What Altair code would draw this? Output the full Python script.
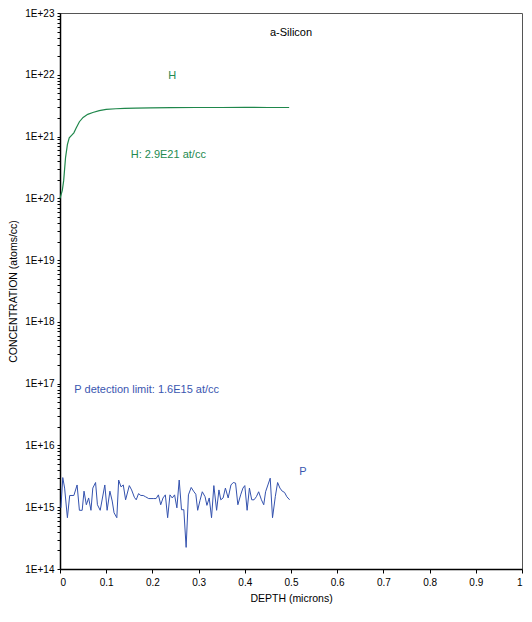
import altair as alt
import pandas as pd

# ---- data ----
h_depth = [0.000, 0.005, 0.008, 0.012, 0.016, 0.020, 0.025, 0.030, 0.035, 0.042,
           0.050, 0.060, 0.071, 0.085, 0.100, 0.121, 0.140, 0.164, 0.196, 0.240,
           0.293, 0.350, 0.400, 0.450, 0.496]
h_log = [20.00, 20.13, 20.29, 20.66, 20.87, 20.98, 21.02, 21.06, 21.14, 21.24,
         21.31, 21.36, 21.39, 21.42, 21.44, 21.45, 21.455, 21.46, 21.465, 21.468,
         21.47, 21.47, 21.472, 21.47, 21.47]

p_depth = [0.002, 0.006, 0.010, 0.016, 0.021, 0.030, 0.037, 0.042, 0.048, 0.052,
           0.057, 0.062, 0.067, 0.071, 0.077, 0.081, 0.087, 0.097, 0.102, 0.108,
           0.113, 0.117, 0.123, 0.127, 0.132, 0.137, 0.142, 0.150, 0.155, 0.161,
           0.165, 0.170, 0.175, 0.180, 0.185, 0.192, 0.203, 0.208, 0.213, 0.218,
           0.223, 0.228, 0.233, 0.238, 0.243, 0.248, 0.253, 0.258, 0.263, 0.268,
           0.273, 0.278, 0.284, 0.289, 0.294, 0.298, 0.303, 0.308, 0.314, 0.318,
           0.323, 0.328, 0.333, 0.339, 0.344, 0.348, 0.353, 0.358, 0.364, 0.370,
           0.375, 0.380, 0.385, 0.391, 0.396, 0.400, 0.405, 0.410, 0.415, 0.420,
           0.425, 0.430, 0.436, 0.441, 0.445, 0.450, 0.455, 0.460, 0.466, 0.471,
           0.476, 0.481, 0.486, 0.491, 0.497]
p_log = [14.99, 15.48, 15.31, 14.83, 15.19, 15.19, 15.36, 14.95, 14.95, 15.26,
         15.04, 15.15, 14.95, 15.31, 15.40, 15.04, 14.95, 15.36, 14.95, 15.26,
         15.10, 14.91, 14.83, 15.44, 15.33, 15.36, 15.12, 15.35, 15.28, 15.16,
         15.12, 15.22, 15.19, 15.19, 15.17, 15.14, 15.14, 15.14, 15.20, 15.04,
         15.15, 15.20, 14.83, 15.20, 15.15, 15.20, 14.99, 15.44, 14.96, 14.96,
         14.35, 15.20, 15.32, 15.26, 15.21, 14.95, 15.11, 15.25, 15.17, 15.03,
         15.15, 14.83, 15.35, 14.95, 15.28, 15.12, 15.15, 15.31, 15.15, 15.36,
         15.40, 15.39, 15.04, 15.20, 15.31, 15.35, 14.95, 15.31, 15.12, 15.12,
         15.17, 15.25, 15.12, 15.04, 15.25, 15.36, 15.47, 14.83, 15.17, 15.40,
         15.31, 15.26, 15.24, 15.17, 15.12]

ann_text = ["a-Silicon", "H", "H: 2.9E21 at/cc", "P detection limit: 1.6E15 at/cc", "P"]
ann_x = [0.50, 0.243, 0.153, 0.031, 0.526]
ann_y = [4.7e22, 9.4e21, 5.0e20, 8.0e16, 3.7e15]
ann_align = ["center", "center", "left", "left", "center"]
ann_color = ["#000000", "#238a4f", "#238a4f", "#3a56b0", "#3a56b0"]

GREEN = "#1f874b"
BLUE = "#3452ae"
FONT = "Liberation Sans"

h_df = pd.DataFrame({"depth": h_depth, "conc": [10 ** v for v in h_log]})
p_df = pd.DataFrame({"depth": p_depth, "conc": [10 ** v for v in p_log]})
ann_df = pd.DataFrame({"text": ann_text, "x": ann_x, "y": ann_y,
                       "align": ann_align, "color": ann_color})

decades = [10.0 ** e for e in range(14, 24)]
minor = [m * 10.0 ** e for e in range(14, 23) for m in range(2, 10)]
y_ticks = sorted(decades + minor)

x_scale = alt.Scale(domain=[0, 1], nice=False, zero=False)
y_scale = alt.Scale(type="log", domain=[1e14, 1e23], nice=False)

x_enc = alt.X("depth:Q", scale=x_scale,
              axis=alt.Axis(title="DEPTH (microns)",
                            values=[round(i * 0.1, 1) for i in range(11)],
                            labelExpr="format(datum.value, '~g')",
                            grid=False, tickSize=4, labelPadding=4,
                            titlePadding=6))
y_enc = alt.Y("conc:Q", scale=y_scale,
              axis=alt.Axis(title="CONCENTRATION (atoms/cc)",
                            values=y_ticks,
                            labelExpr="abs(log(datum.value)/LN10 - round(log(datum.value)/LN10)) < 0.001 ? '1E+' + round(log(datum.value)/LN10) : ''",
                            grid=False, tickSize=3, labelPadding=3,
                            titlePadding=6, labelOverlap=False))

h_line = alt.Chart(h_df).mark_line(color=GREEN, strokeWidth=1.2).encode(
    x=x_enc, y=y_enc, order="depth:Q")
p_line = alt.Chart(p_df).mark_line(color=BLUE, strokeWidth=1).encode(
    x=x_enc, y=y_enc, order="depth:Q")

ann_left = alt.Chart(ann_df[ann_df["align"] == "left"]).mark_text(
    align="left", baseline="middle", fontSize=11, font=FONT).encode(
    x=alt.X("x:Q", scale=x_scale), y=alt.Y("y:Q", scale=y_scale),
    text="text:N", color=alt.Color("color:N", scale=None))
ann_center = alt.Chart(ann_df[ann_df["align"] == "center"]).mark_text(
    align="center", baseline="middle", fontSize=11, font=FONT).encode(
    x=alt.X("x:Q", scale=x_scale), y=alt.Y("y:Q", scale=y_scale),
    text="text:N", color=alt.Color("color:N", scale=None))

chart = alt.layer(h_line, p_line, ann_left, ann_center).properties(
    width=462, height=556, padding={"left": 0, "top": 0, "right": 0, "bottom": 0}
).configure_view(stroke="#555555", strokeWidth=1).configure_axis(
    domainColor="#000000", domainWidth=1.5, tickColor="#000000", tickWidth=1,
    labelFont=FONT, titleFont=FONT, labelFontSize=10, titleFontSize=10.5,
    labelColor="#000000", titleColor="#000000", titleFontWeight="normal"
)

chart.save("out.html", embed_options={"renderer": "svg", "actions": False})
